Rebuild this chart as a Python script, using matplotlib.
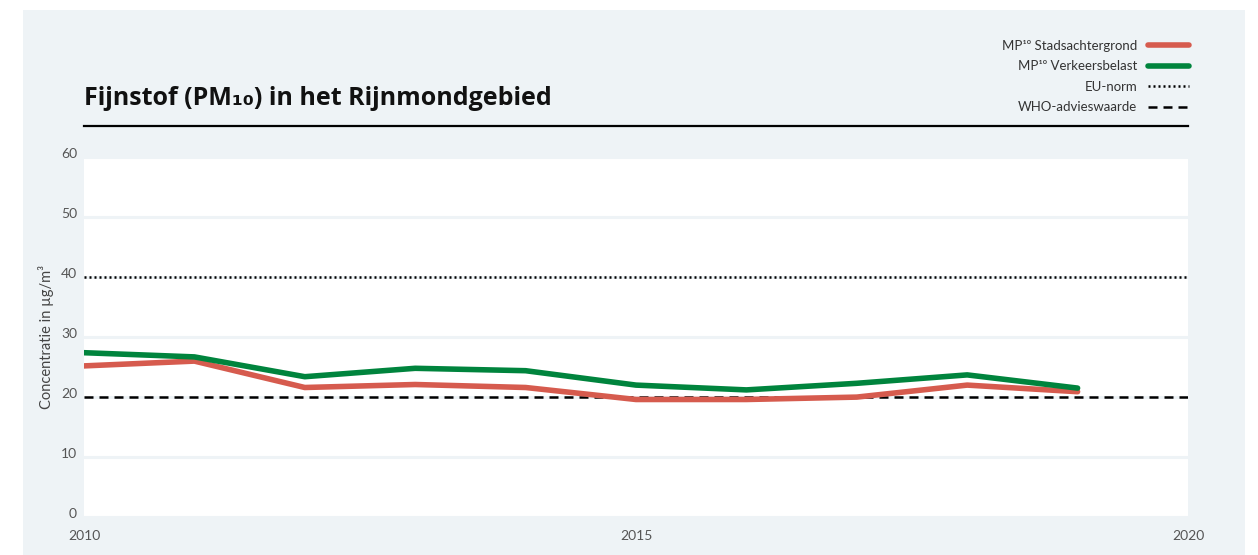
import matplotlib
matplotlib.use("Agg")
import matplotlib.pyplot as plt
from matplotlib.patches import Rectangle
from matplotlib.lines import Line2D
import matplotlib.transforms as mtransforms

# ---- data ----
years = [2010, 2011, 2012, 2013, 2014, 2015, 2016, 2017, 2018, 2019]
stadsachtergrond = [25.1, 25.9, 21.5, 22.0, 21.5, 19.5, 19.5, 19.9, 21.9, 20.8]
verkeersbelast = [27.3, 26.6, 23.3, 24.7, 24.3, 21.9, 21.1, 22.2, 23.6, 21.4]
eu_norm = 40
who_advies = 20
yticks = [0, 10, 20, 30, 40, 50, 60]
xticks = [2010, 2015, 2020]

title = "Fijnstof (PM\u2081\u2080) in het Rijnmondgebied"
labels = ["MP\u00b9\u2070 Stadsachtergrond", "MP\u00b9\u2070 Verkeersbelast",
          "EU-norm", "WHO-advieswaarde"]
ylabel = "Concentratie in \u00b5g/m\u00b3"

RED = "#d65b4e"
GREEN = "#00843d"
BG = "#eef3f6"
FONT = ["Lato", "DejaVu Sans"]
DOT = (0, (0.8, 1.2))
DASH = (0, (3.6, 2.4))

plt.rcParams["font.family"] = FONT

W, H = 1258, 555
fig = plt.figure(figsize=(W / 100, H / 100), dpi=100)
fig.patch.set_facecolor("white")

# panel background
fig.patches.append(Rectangle((23 / W, 0), (1245 - 23) / W, (555 - 10) / H,
                             transform=fig.transFigure, facecolor=BG,
                             edgecolor="none", zorder=-10))

ax = fig.add_axes([84 / W, 38.5 / H, (1188 - 84) / W, 360 / H])
ax.set_facecolor("white")
for s in ax.spines.values():
    s.set_visible(False)

ax.set_xlim(2010, 2020)
ax.set_ylim(0, 60)
ax.set_yticks(yticks)
ax.set_xticks(xticks)
ax.grid(axis="y", color=BG, lw=2.2)
ax.grid(axis="x", visible=False)
ax.set_axisbelow(True)
ax.tick_params(length=0, labelsize=10, labelcolor="#555555")
ax.tick_params(axis="y", pad=5)
ax.tick_params(axis="x", pad=10)
offset = mtransforms.ScaledTranslation(0, 4 / 100, fig.dpi_scale_trans)
for lab in ax.get_yticklabels():
    lab.set_transform(lab.get_transform() + offset)

ax.axhline(eu_norm, color="black", lw=1.8, linestyle=DOT, zorder=2)
ax.axhline(who_advies, color="black", lw=1.8, linestyle=DASH, zorder=2)
ax.plot(years, stadsachtergrond, color=RED, lw=4, solid_capstyle="round",
        solid_joinstyle="round", zorder=3)
ax.plot(years, verkeersbelast, color=GREEN, lw=4, solid_capstyle="round",
        solid_joinstyle="round", zorder=3)

ax.set_ylabel(ylabel, fontsize=10.5, color="#444444", labelpad=5)

# title and rule
fig.text(84 / W, (H - 105) / H, title, fontsize=18, fontweight="bold",
         color="#111111", va="baseline", ha="left",
         family=["Open Sans", "DejaVu Sans"])
fig.add_artist(Line2D([84 / W, 1188 / W], [(H - 126) / H] * 2, color="black",
                      lw=1.6, transform=fig.transFigure))

# legend
handles = [
    Line2D([], [], color=RED, lw=4, solid_capstyle="round"),
    Line2D([], [], color=GREEN, lw=4, solid_capstyle="round"),
    Line2D([], [], color="black", lw=1.8, linestyle=DOT),
    Line2D([], [], color="black", lw=1.8, linestyle=DASH),
]
leg = fig.legend(handles, labels, loc="upper right",
                 bbox_to_anchor=(1189 / W, (H - 40) / H),
                 markerfirst=False, frameon=False, fontsize=9.5,
                 handlelength=3.1, handletextpad=0.8, labelspacing=0.64,
                 borderpad=0, borderaxespad=0)
for t in leg.get_texts():
    t.set_color("#333333")

fig.savefig("out.png", dpi=100)
